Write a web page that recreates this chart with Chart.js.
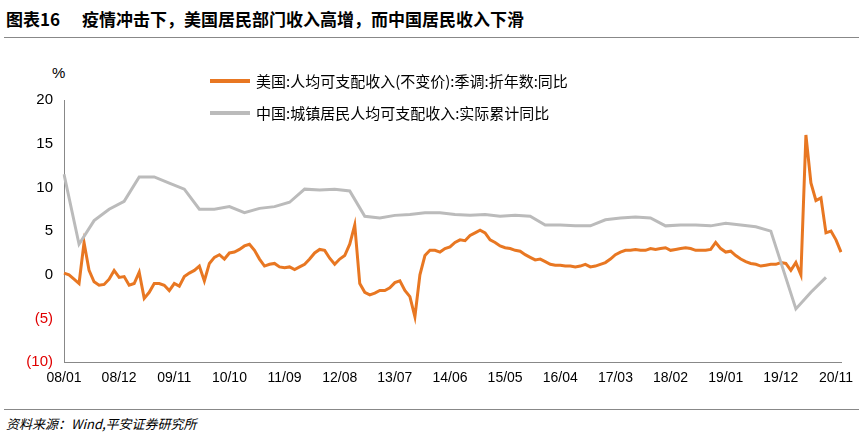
<!DOCTYPE html>
<html><head><meta charset="utf-8">
<script src="https://cdn.jsdelivr.net/npm/chart.js@4/dist/chart.umd.min.js"></script>
<style>
body{margin:0;width:863px;height:443px;background:#fff;font-family:"Noto Sans CJK SC",sans-serif;position:relative;overflow:hidden}
#title{position:absolute;left:6px;top:6px;font-size:17px;font-weight:bold;color:#000}
#title span{margin-right:22px}
.rule{position:absolute;left:4px;width:855px;height:1px;background:#888}
#src{position:absolute;left:6px;top:414px;font-size:13px;font-style:italic;color:#000}
#box{position:absolute;left:0;top:58px;width:863px;height:332px}
#pct{position:absolute;left:52px;top:64px;font-size:15px;font-family:Arial,"Liberation Sans",sans-serif}
.lg{position:absolute;left:210px;font-size:15px;display:flex;align-items:center}
.lg i{display:inline-block;width:40px;height:4px;margin-right:6px}
</style></head><body>
<div id="title"><span>图表16</span>疫情冲击下，美国居民部门收入高增，而中国居民收入下滑</div>
<div class="rule" style="top:37px"></div>
<div id="pct">%</div>
<div id="box"><canvas id="c"></canvas></div>
<div class="lg" style="top:70px"><i style="background:#E87722"></i>美国:人均可支配收入(不变价):季调:折年数:同比</div>
<div class="lg" style="top:102px"><i style="background:#BBBBBB"></i>中国:城镇居民人均可支配收入:实际累计同比</div>
<div class="rule" style="top:409px"></div>
<div id="src">资料来源：Wind,平安证券研究所</div>
<script>
// 美国 月度同比 2008/01 - 2020/11
const usValues = [
  0.2, 0, -0.5, -1, 3.7, 0.5, -0.8, -1.2, -1.1, -0.5, 0.5, -0.3, -0.2, -1.2, -1, 0.3, -2.7, -2, -1, -1,
  -1.2, -1.8, -1, -1.3, -0.2, 0.2, 0.5, 1, -0.7, 1.3, 2, 2.3, 1.8, 2.5, 2.6, 2.9, 3.3, 3.5, 2.8, 1.8,
  1, 1.2, 1.3, 0.9, 0.8, 0.9, 0.6, 0.9, 1.2, 1.8, 2.5, 2.9, 2.8, 1.9, 1.2, 1.8, 2.2, 3.5, 5.7, -1,
  -2, -2.3, -2.1, -1.8, -1.8, -1.5, -0.9, -0.7, -1.8, -2.5, -4.8, 0, 2.2, 2.8, 2.8, 2.6, 3, 3.2, 3.7, 4,
  3.9, 4.5, 4.8, 5.1, 4.8, 4, 3.7, 3.3, 3.1, 3.0, 2.8, 2.7, 2.3, 2, 1.7, 1.8, 1.5, 1.2, 1.1, 1.1,
  1.0, 1.0, 0.9, 1.0, 1.2, 0.9, 1.0, 1.2, 1.4, 1.8, 2.3, 2.6, 2.8, 2.8, 2.9, 2.8, 2.8, 3.0, 2.9, 3.0,
  3.1, 2.8, 2.9, 3.0, 3.1, 3.0, 2.8, 2.8, 2.8, 2.9, 3.7, 3.0, 2.6, 2.7, 2.2, 1.8, 1.5, 1.3, 1.2, 1.0,
  1.1, 1.2, 1.2, 1.4, 1.3, 0.5, 1.4, 0, 16.0, 10.5, 8.5, 8.8, 4.8, 5.0, 4.0, 2.6
];
// 中国 季度累计同比
const cnValues = [
  11.5, 3.5, 6.2, 7.5, 8.4, 11.2, 11.2, 10.5, 9.8, 7.5, 7.5, 7.8, 7.1, 7.6, 7.8, 8.3, 9.8, 9.7,
  9.8, 9.6, 6.7, 6.5, 6.8, 6.9, 7.1, 7.1, 6.9, 6.8, 6.9, 6.7, 6.8, 6.7, 5.7, 5.7, 5.6, 5.6, 6.3,
  6.5, 6.6, 6.5, 5.6, 5.7, 5.7, 5.6, 5.9, 5.7, 5.5, 5.0, -3.9, -2.0, -0.3
];
const tickEvery = 11;

const labels = usValues.map((_, i) => {
  const y = 8 + Math.floor(i / 12), m = i % 12 + 1;
  return String(y).padStart(2, "0") + "/" + String(m).padStart(2, "0");
});
const cnSeries = labels.map(() => null);
cnValues.forEach((v, k) => {
  // 最后三个点对齐到 2020 年季末
  const i = k < 48 ? k * 3 : 146 + (k - 48) * 3;
  if (i < cnSeries.length) cnSeries[i] = v;
});

new Chart(document.getElementById("c"), {
  type: "line",
  data: {
    labels,
    datasets: [
      { data: cnSeries, borderColor: "#BBBBBB", borderWidth: 3, pointRadius: 0, spanGaps: true, tension: 0 },
      { data: usValues, borderColor: "#E87722", borderWidth: 3, pointRadius: 0, tension: 0 },
    ],
  },
  options: {
    responsive: true, maintainAspectRatio: false, animation: false,
    layout: { padding: { left: 8, right: 22, top: 42, bottom: 0 } },
    plugins: { legend: { display: false }, tooltip: { enabled: false } },
    scales: {
      x: {
        grid: { display: false, drawTicks: true, tickLength: 5, color: "#888" },
        border: { color: "#888" },
        ticks: {
          autoSkip: false, maxRotation: 0, color: "#000",
          font: { family: "Arial, Liberation Sans", size: 14 },
          callback: (v, i) => (i % tickEvery === 0 ? labels[i] : ""),
        },
      },
      y: {
        min: -10, max: 20,
        afterFit: (s) => { s.width = 56; },
        grid: { display: false },
        border: { color: "#888" },
        ticks: {
          stepSize: 5, color: (c) => (c.tick.value < 0 ? "#E00000" : "#000"),
          font: { family: "Arial, Liberation Sans", size: 15 },
          callback: (v) => (v < 0 ? "(" + -v + ")" : v),
        },
      },
    },
  },
});
</script>
</body></html>
